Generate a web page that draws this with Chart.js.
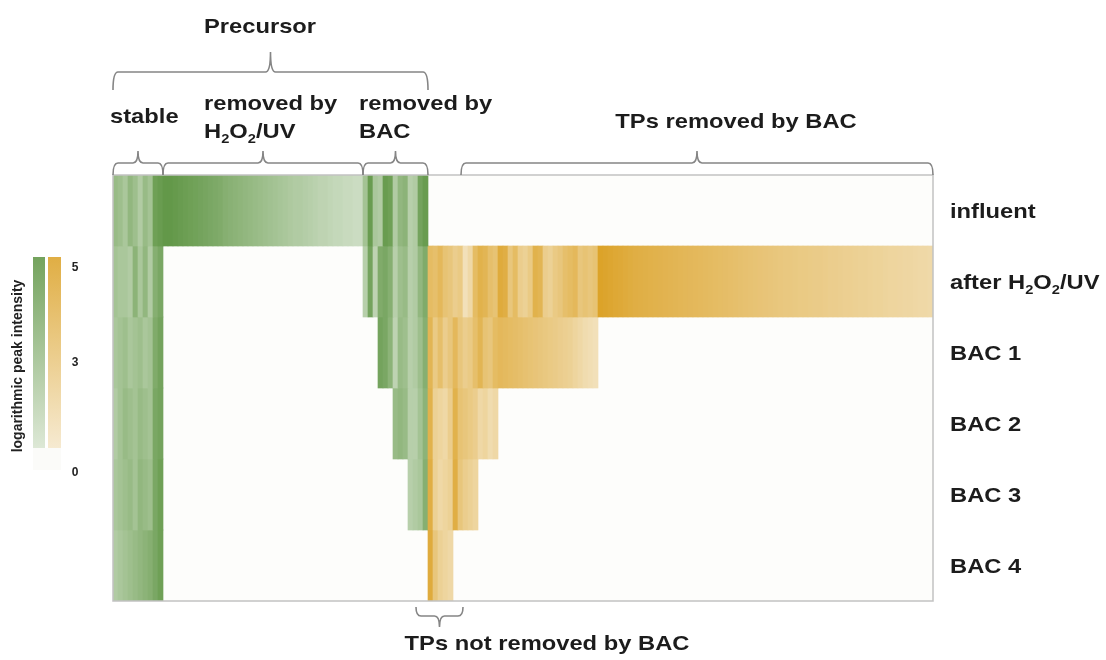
<!DOCTYPE html>
<html>
<head>
<meta charset="utf-8">
<script src="https://cdn.jsdelivr.net/npm/chart.js@4.4.1/dist/chart.umd.min.js"></script>
<style>
html, body { margin: 0; padding: 0; background: #fff; }
#wrap { position: relative; width: 1106px; height: 660px; }
</style>
</head>
<body>
<div id="wrap"><canvas id="heat" width="1106" height="660"></canvas></div>
<script>
// heatmap of features (columns) per treatment step (rows)
// values = logarithmic peak intensity, 0 = not detected

var rowLabels = ['influent', 'after H_2O_2/UV', 'BAC 1', 'BAC 2', 'BAC 3', 'BAC 4'];

// precursors found in every step
var stableVals = [
    [2.8, 2.6, 2.2, 3.0, 2.6, 2.0, 2.8, 2.4, 4.2, 4.4],
    [2.4, 2.2, 2.2, 2.0, 3.2, 2.2, 3.0, 2.0, 3.4, 3.8],
    [2.2, 2.4, 2.6, 2.2, 2.4, 2.6, 2.2, 2.4, 3.6, 4.0],
    [2.0, 2.4, 2.8, 2.6, 2.4, 2.8, 2.6, 2.4, 3.8, 4.0],
    [2.2, 2.4, 2.6, 2.8, 2.4, 3.0, 2.8, 2.6, 3.8, 4.2],
    [2.0, 2.2, 2.4, 2.6, 2.8, 3.0, 3.2, 3.4, 3.8, 4.2]
];

// precursors only in the influent
var uvRemovedVals = [
    4.6, 4.6, 4.5, 4.4, 4.3, 4.2, 4.1, 4.0, 3.9, 3.8,
    3.7, 3.6, 3.4, 3.3, 3.2, 3.1, 3.0, 2.9, 2.8, 2.7,
    2.6, 2.5, 2.4, 2.3, 2.2, 2.1, 2.0, 2.0, 1.9, 1.8,
    1.7, 1.6, 1.6, 1.5, 1.4, 1.4, 1.3, 1.3, 1.2, 1.2
];

// precursors removed step by step in the BAC columns
var bacRemovedVals = [
    [2.4, 4.4, 2.2, 2.0, 4.4, 4.2, 2.0, 3.0, 3.2, 1.8, 2.0, 4.0, 4.4],
    [1.8, 4.0, 1.6, 3.6, 3.8, 3.4, 1.8, 2.6, 2.8, 1.8, 2.0, 3.0, 3.6],
    [0, 0, 0, 4.0, 3.8, 3.2, 1.6, 2.8, 2.6, 1.8, 2.0, 2.6, 3.4],
    [0, 0, 0, 0, 0, 0, 2.8, 3.0, 2.8, 1.8, 1.8, 2.4, 3.2],
    [0, 0, 0, 0, 0, 0, 0, 0, 0, 1.8, 2.0, 2.2, 3.4],
    [0, 0, 0, 0, 0, 0, 0, 0, 0, 0, 0, 0, 0]
];

// TPs not removed by BAC
var tpKeptVals = [
    [0, 0, 0, 0, 0],
    [3.2, 3.0, 3.4, 2.8, 2.6],
    [3.6, 2.4, 3.0, 2.2, 2.6],
    [3.8, 2.0, 1.8, 1.6, 2.2],
    [4.0, 2.0, 1.6, 1.8, 2.0],
    [4.2, 2.6, 2.0, 1.8, 1.6]
];

// TPs removed by BAC (rows end where the TP is gone)
var tpRemovedVals = [
    [],
    [
        2.2, 2.4, 1.2, 1.6, 3.2,
        3.8, 3.6, 3.0, 2.8,
        4.2, 4.0, 2.6, 3.2, 2.2, 2.0, 2.4, 3.8, 3.6, 2.2,
        2.0, 2.4, 2.6, 3.0, 3.2, 3.4, 2.6, 2.8, 2.6, 2.8,
        4.7, 4.6, 4.5, 4.4, 4.3, 4.2, 4.1, 4.0, 3.95, 3.9,
        3.85, 3.8, 3.75, 3.7, 3.65, 3.6, 3.55, 3.5, 3.45, 3.4,
        3.35, 3.3, 3.25, 3.2, 3.15, 3.1, 3.05, 3.0, 2.95, 2.9,
        2.85, 2.8, 2.75, 2.7, 2.65, 2.6, 2.55, 2.5, 2.5, 2.45,
        2.4, 2.4, 2.35, 2.3, 2.3, 2.25, 2.2, 2.2, 2.15, 2.1,
        2.1, 2.05, 2.0, 2.0, 1.95, 1.9, 1.9, 1.85, 1.8, 1.8,
        1.75, 1.7, 1.7, 1.65, 1.6, 1.6, 1.55
    ],
    [
        3.4, 2.6, 2.2, 2.4, 3.0,
        3.6, 2.8, 2.6, 3.2,
        3.4, 3.3, 3.2, 3.1, 3.0, 2.9, 2.8, 2.7, 2.6, 2.5,
        2.4, 2.3, 2.2, 2.1, 2.0, 1.8, 1.6, 1.4, 1.3, 1.2
    ],
    [3.8, 2.8, 2.6, 2.4, 2.2, 1.6, 1.8, 1.4, 1.6],
    [4.0, 2.6, 2.2, 2.0, 1.8],
    []
];

var legendTicks = ['5', '3', '0'];

var greenFull = [88, 145, 60];
var yellowFull = [218, 158, 30];
var blank = [252, 252, 250];
var FONT = '"Liberation Sans", Arial, sans-serif';
var SX = 1.13; // the reference text is a bit wide

function zeros(n) { return new Array(n).fill(0); }

var tpRemovedCount = tpRemovedVals[1].length;
var greenCount = stableVals[0].length + uvRemovedVals.length + bacRemovedVals[0].length;
var stableEnd = stableVals[0].length;
var uvEnd = stableEnd + uvRemovedVals.length;
var keptStart = greenCount;
var keptEnd = keptStart + tpKeptVals[0].length;

var rowValues = rowLabels.map(function (_, r) {
    var tp = tpRemovedVals[r].concat(zeros(tpRemovedCount - tpRemovedVals[r].length));
    return [].concat(
        stableVals[r],
        r === 0 ? uvRemovedVals : zeros(uvRemovedVals.length),
        bacRemovedVals[r],
        tpKeptVals[r],
        tp
    );
});
var nFeatures = rowValues[0].length;
var featureLabels = rowValues[0].map(function (_, i) { return 'f' + (i + 1); });

function mix(c, t) {
    t = Math.max(0, Math.min(1, t));
    return 'rgb(' + [0, 1, 2].map(function (k) {
        return Math.round(blank[k] + (c[k] - blank[k]) * t);
    }).join(',') + ')';
}

function cellColor(v, green) {
    return mix(green ? greenFull : yellowFull, Math.pow(v / 5, 0.85));
}

// text with "_x" subscripts, stretched a little in x
function richText(ctx, str, x, y, size, align) {
    var parts = [];
    for (var i = 0; i < str.length; i++) {
        if (str[i] === '_') { parts.push({ t: str[i + 1], sub: true }); i++; }
        else if (parts.length && !parts[parts.length - 1].sub) parts[parts.length - 1].t += str[i];
        else parts.push({ t: str[i], sub: false });
    }
    var big = 'bold ' + size + 'px ' + FONT;
    var small = 'bold ' + Math.round(size * 0.62) + 'px ' + FONT;
    var w = 0;
    parts.forEach(function (p) { ctx.font = p.sub ? small : big; p.w = ctx.measureText(p.t).width; w += p.w; });
    ctx.save();
    ctx.translate(x, y);
    ctx.scale(SX, 1);
    ctx.fillStyle = '#1c1c1c';
    ctx.textBaseline = 'alphabetic';
    ctx.textAlign = 'left';
    var cx = align === 'center' ? -w / 2 : (align === 'right' ? -w : 0);
    parts.forEach(function (p) {
        ctx.font = p.sub ? small : big;
        ctx.fillText(p.t, cx, p.sub ? size * 0.22 : 0);
        cx += p.w;
    });
    ctx.restore();
}

function brace(ctx, x0, x1, y, down, up) {
    var xm = (x0 + x1) / 2;
    var r = Math.min(5, (x1 - x0) / 4);
    ctx.beginPath();
    ctx.moveTo(x0, y + down);
    ctx.quadraticCurveTo(x0, y, x0 + r, y);
    ctx.lineTo(xm - r, y);
    ctx.quadraticCurveTo(xm, y, xm, y - up);
    ctx.moveTo(xm, y - up);
    ctx.quadraticCurveTo(xm, y, xm + r, y);
    ctx.lineTo(x1 - r, y);
    ctx.quadraticCurveTo(x1, y, x1, y + down);
    ctx.stroke();
}

var annotate = {
    id: 'annotate',
    beforeDatasetsDraw: function (chart) {
        var ctx = chart.ctx, a = chart.chartArea;
        ctx.save();
        ctx.fillStyle = '#fdfdfb';
        ctx.fillRect(a.left, a.top, a.right - a.left, a.bottom - a.top);
        ctx.restore();
    },
    afterDraw: function (chart) {
        var ctx = chart.ctx, a = chart.chartArea;
        var xs = chart.scales.x, ys = chart.scales.y;
        var step = (a.right - a.left) / nFeatures;
        function edge(i) { return xs.getPixelForValue(i) - step / 2; }

        ctx.save();
        // frame
        ctx.strokeStyle = '#c2c2c2';
        ctx.lineWidth = 1.5;
        ctx.strokeRect(a.left, a.top, a.right - a.left, a.bottom - a.top);

        // braces
        ctx.strokeStyle = '#858585';
        ctx.lineWidth = 1.6;
        brace(ctx, edge(0), edge(greenCount), 72, 18, 20);
        brace(ctx, edge(0), edge(stableEnd), 163, 12, 12);
        brace(ctx, edge(stableEnd), edge(uvEnd), 163, 12, 12);
        brace(ctx, edge(uvEnd), edge(greenCount), 163, 12, 12);
        brace(ctx, edge(keptEnd) + 8, edge(nFeatures), 163, 12, 12);
        brace(ctx, edge(keptStart) - 12, edge(keptEnd) + 10, 616, -9, -11);
        ctx.restore();

        // group labels
        richText(ctx, 'Precursor', 260, 33, 21, 'center');
        richText(ctx, 'stable', 110, 123, 21, 'left');
        richText(ctx, 'removed by', 204, 110, 21, 'left');
        richText(ctx, 'H_2O_2/UV', 204, 138, 21, 'left');
        richText(ctx, 'removed by', 359, 110, 21, 'left');
        richText(ctx, 'BAC', 359, 138, 21, 'left');
        richText(ctx, 'TPs removed by BAC', 736, 128, 21, 'center');
        richText(ctx, 'TPs not removed by BAC', 547, 650, 21, 'center');

        // row labels on the y scale positions
        rowLabels.forEach(function (name, r) {
            richText(ctx, name, 950, ys.getPixelForValue(r + 0.5) + 7.5, 21, 'left');
        });

        // colour key
        var top = 257, bot = 448;
        var gG = ctx.createLinearGradient(0, top, 0, bot);
        gG.addColorStop(0, cellColor(4.0, true));
        gG.addColorStop(1, cellColor(0.7, true));
        var gY = ctx.createLinearGradient(0, top, 0, bot);
        gY.addColorStop(0, cellColor(4.0, false));
        gY.addColorStop(1, cellColor(0.7, false));
        ctx.save();
        ctx.fillStyle = gG;
        ctx.fillRect(33, top, 12, bot - top);
        ctx.fillStyle = gY;
        ctx.fillRect(48, top, 13, bot - top);
        ctx.fillStyle = '#fbfbf9';
        ctx.fillRect(33, bot, 28, 22);
        ctx.fillStyle = '#222';
        ctx.font = 'bold 12px ' + FONT;
        ctx.textAlign = 'center';
        ctx.textBaseline = 'middle';
        ctx.fillText(legendTicks[0], 75, 268);
        ctx.fillText(legendTicks[1], 75, 363);
        ctx.fillText(legendTicks[2], 75, 473);
        ctx.translate(18, 366);
        ctx.rotate(-Math.PI / 2);
        ctx.font = 'bold 14px ' + FONT;
        ctx.fillText('logarithmic peak intensity', 0, 0);
        ctx.restore();
    }
};

var heatDatasets = rowLabels.map(function (name, r) {
    return {
        label: name,
        data: rowValues[r].map(function (v) { return v > 0 ? [r, r + 1] : null; }),
        backgroundColor: rowValues[r].map(function (v, i) { return cellColor(v, i < greenCount); }),
        borderWidth: 0,
        barPercentage: 1,
        categoryPercentage: 1,
        grouped: false
    };
});

var heatChart = new Chart(document.getElementById('heat'), {
    type: 'bar',
    data: {
        labels: featureLabels,
        datasets: heatDatasets
    },
    options: {
        responsive: false,
        animation: false,
        layout: { padding: { left: 113, top: 175, right: 173, bottom: 59 } },
        plugins: {
            legend: { display: false },
            tooltip: { enabled: false }
        },
        scales: {
            x: { type: 'category', display: false, grid: { display: false } },
            y: { type: 'linear', min: 0, max: rowLabels.length, reverse: true, display: false }
        }
    },
    plugins: [annotate]
});
</script>
</body>
</html>
